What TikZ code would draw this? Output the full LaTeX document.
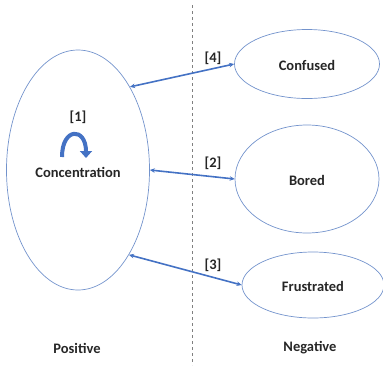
\documentclass[tikz,border=0pt]{standalone}
\usepackage{fontspec}
\setmainfont{Carlito}
\usetikzlibrary{shapes.geometric,arrows.meta}
\definecolor{elblue}{HTML}{7393CC}
\definecolor{arblue}{HTML}{4472C4}
\tikzset{
  state/.style={draw=elblue, line width=0.7pt, ellipse, inner sep=0pt},
  lbl/.style={font=\fontsize{14.5}{16}\selectfont\bfseries, text=black!85, inner sep=0pt},
  link/.style={draw=arblue, line width=1.6pt, {Stealth[length=5pt,width=4.5pt]}-{Stealth[length=5pt,width=4.5pt]}},
}
\begin{document}
\begin{tikzpicture}[x=1pt,y=-1pt]
\useasboundingbox (0,0) rectangle (383,365);
\draw[gray, dashed, line width=0.7pt] (192,5) coordinate (dtop) -- (192,365) coordinate (dbot);
\node[state, minimum width=143pt, minimum height=240pt] (conc) at (78,170) {};
\node[state, minimum width=145pt, minimum height=69pt] (conf) at (307,64) {};
\node[state, minimum width=144pt, minimum height=108pt] (bored) at (307,179) {};
\node[state, minimum width=142pt, minimum height=66pt] (frus) at (313,285) {};
\node[lbl] (tconc) at (78,172) {Concentration};
\node[lbl] (tconf) at (307,65) {Confused};
\node[lbl] (tbored) at (307,180) {Bored};
\node[lbl] (tfrus) at (313,286) {Frustrated};
\node[lbl] (l1) at (78,117) {[1]};
\node[lbl] (l4) at (213,58) {[4]};
\node[lbl] (l2) at (213,163) {[2]};
\node[lbl] (l3) at (213,265) {[3]};
\node[lbl] (pos) at (77,348) {Positive};
\node[lbl] (neg) at (310,348) {Negative};
\draw[link] (conc.58) -- (conf.west);
\draw[link] (conc.-0.5) -- (bored.west);
\draw[link] (conc.-59) -- (frus.west);
\coordinate (ca) at (62,157);
\coordinate (cb) at (86,158);
\draw[arblue, line width=4pt, -{Triangle[length=7pt,width=12pt]}] (ca) .. controls (62,127) and (86,127) .. (cb);
\end{tikzpicture}
\end{document}
